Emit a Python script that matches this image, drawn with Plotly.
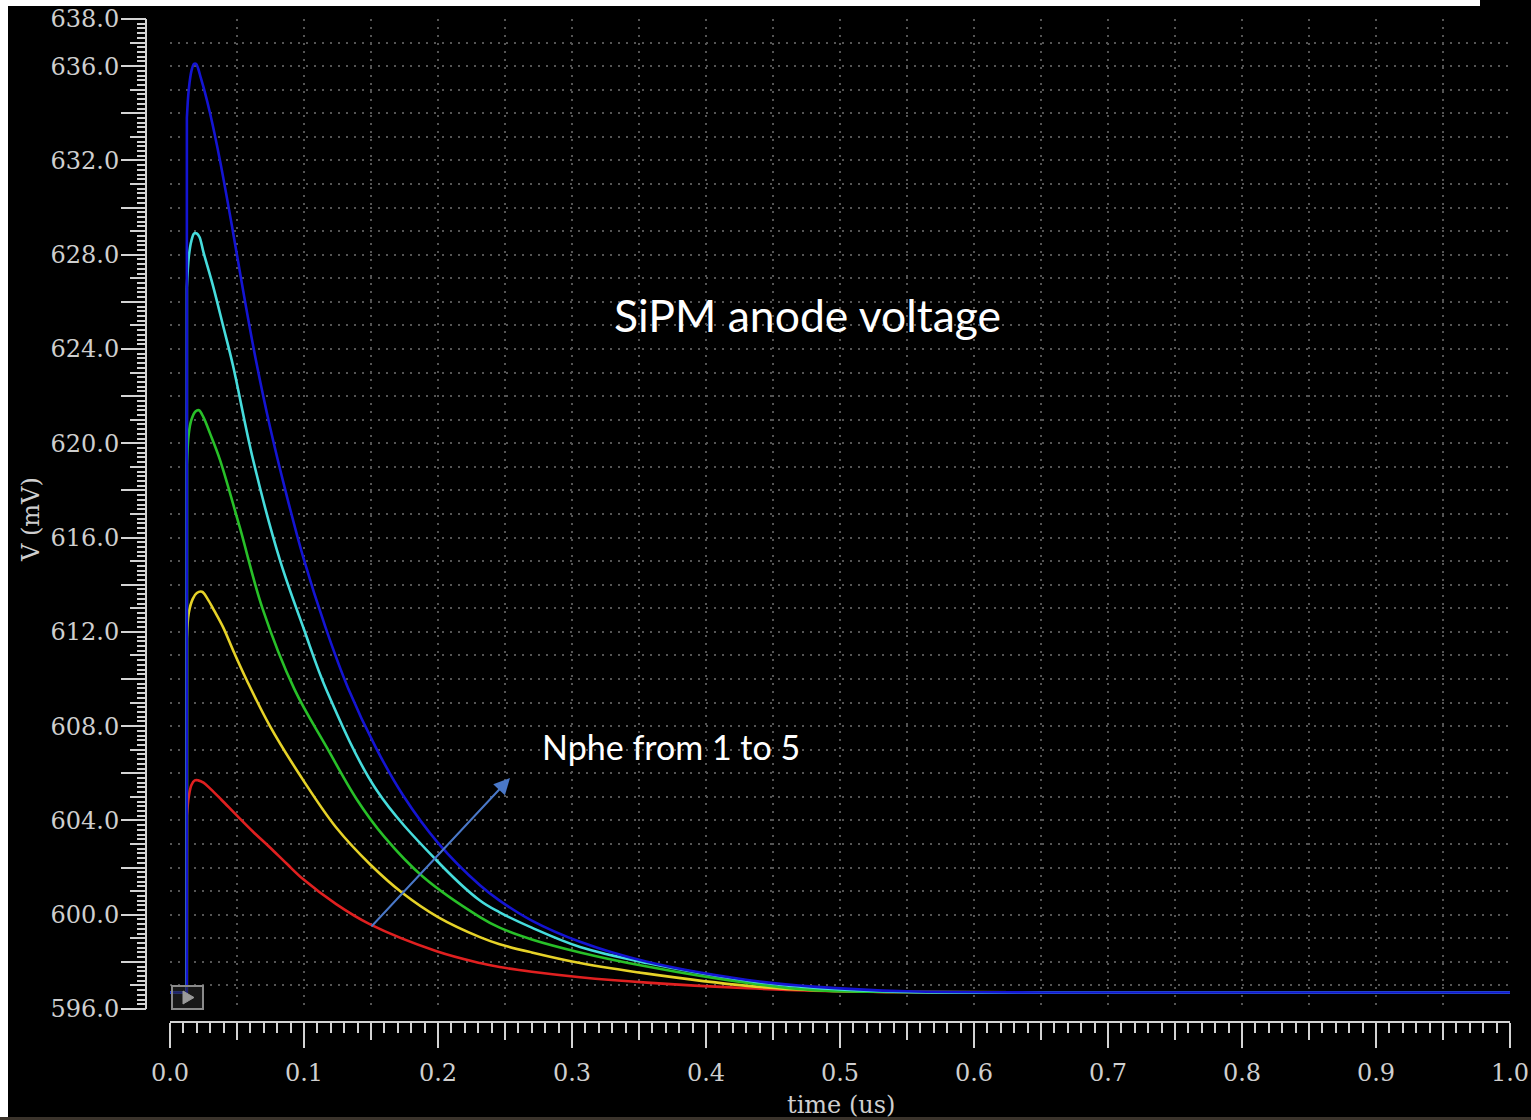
import plotly.graph_objects as go

# ---------------- data ----------------
series_names = ["Nphe 1", "Nphe 2", "Nphe 3", "Nphe 4", "Nphe 5"]
series_colors = ["#e02020", "#e6d228", "#28c028", "#46dcdc", "#1414d2"]

t_n1 = [0.0, 0.0125, 0.0126, 0.0140, 0.0160, 0.0185, 0.0210, 0.0250, 0.0300, 0.0380, 0.0500,
        0.0620, 0.0746, 0.0870, 0.0995, 0.1240, 0.1490, 0.1990, 0.2313, 0.2460, 0.2700,
        0.3060, 0.3560, 0.4310, 0.4800, 0.5500, 0.7000, 1.0]
v_n1 = [596.7, 596.7, 604.2, 605.0, 605.5, 605.7, 605.7, 605.6, 605.35, 604.9, 604.2,
        603.52, 602.85, 602.17, 601.5, 600.45, 599.6, 598.45, 597.95, 597.78, 597.58,
        597.35, 597.12, 596.88, 596.78, 596.72, 596.7, 596.7]

t_n2 = [0.0, 0.0125, 0.0126, 0.0140, 0.0170, 0.0200, 0.0239, 0.0280, 0.0330, 0.0396, 0.0480,
        0.0572, 0.0746, 0.0995, 0.1240, 0.1500, 0.1740, 0.2000, 0.2313, 0.2460, 0.2700,
        0.3060, 0.3560, 0.4310, 0.4800, 0.5500, 0.7000, 1.0]
v_n2 = [596.7, 596.7, 611.7, 612.8, 613.4, 613.65, 613.7, 613.4, 612.9, 612.2, 611.1,
        609.96, 608.0, 605.7, 603.7, 602.1, 600.9, 599.9, 599.05, 598.75, 598.4,
        597.95, 597.5, 596.98, 596.8, 596.72, 596.7, 596.7]

t_n3 = [0.0, 0.0125, 0.0126, 0.0140, 0.0160, 0.0190, 0.0216, 0.0250, 0.0300, 0.0373, 0.0520,
        0.0690, 0.0930, 0.1170, 0.1393, 0.1600, 0.1890, 0.2313, 0.2460, 0.2700, 0.3060,
        0.3560, 0.4310, 0.4800, 0.5500, 0.7000, 1.0]
v_n3 = [596.7, 596.7, 619.1, 620.4, 621.0, 621.35, 621.4, 621.1, 620.4, 619.3, 616.45,
        613.0, 609.55, 607.1, 604.9, 603.3, 601.6, 599.9, 599.45, 598.95, 598.4,
        597.8, 597.1, 596.8, 596.72, 596.7, 596.7]

t_n4 = [0.0, 0.0125, 0.0126, 0.0140, 0.0160, 0.0180, 0.0200, 0.0220, 0.0250, 0.0320, 0.0400,
        0.0470, 0.0620, 0.0820, 0.1000, 0.1170, 0.1540, 0.1990, 0.2313, 0.2460, 0.2700,
        0.3060, 0.3560, 0.4310, 0.4800, 0.5500, 0.7000, 1.0]
v_n4 = [596.7, 596.7, 626.6, 627.9, 628.6, 628.9, 628.9, 628.75, 628.1, 626.7, 624.9,
        623.3, 619.3, 615.05, 612.1, 609.5, 605.3, 602.3, 600.6, 600.1, 599.45,
        598.63, 597.95, 597.2, 596.9, 596.72, 596.7, 596.7]

t_n5 = [0.0, 0.0125, 0.0126, 0.0140, 0.0160, 0.0180, 0.0194, 0.0210, 0.0230, 0.0260, 0.0299,
        0.0373, 0.0463, 0.0545, 0.0642, 0.0746, 0.0870, 0.0995, 0.1160, 0.1330, 0.1540,
        0.1740, 0.2000, 0.2313, 0.2460, 0.2700, 0.3060, 0.3560, 0.4310, 0.4800, 0.5500,
        0.7000, 1.0]
v_n5 = [596.7, 596.7, 633.8, 635.0, 635.8, 636.1, 636.1, 635.9, 635.5, 634.9, 634.0,
        632.0, 629.2, 626.5, 623.5, 620.7, 617.8, 615.15, 612.2, 609.6, 607.05,
        605.06, 603.05, 601.25, 600.6, 599.75, 598.85, 598.0, 597.23, 596.95, 596.75,
        596.7, 596.7]

series_t = [t_n1, t_n2, t_n3, t_n4, t_n5]
series_v = [v_n1, v_n2, v_n3, v_n4, v_n5]

x_tickvals = [0.0, 0.1, 0.2, 0.3, 0.4, 0.5, 0.6, 0.7, 0.8, 0.9, 1.0]
x_ticktext = ["0.0", "0.1", "0.2", "0.3", "0.4", "0.5", "0.6", "0.7", "0.8", "0.9", "1.0"]
y_tickvals = [596, 598, 600, 602, 604, 606, 608, 610, 612, 614, 616, 618, 620,
              622, 624, 626, 628, 630, 632, 634, 636, 638]
y_ticktext = ["596.0", "", "600.0", "", "604.0", "", "608.0", "", "612.0", "", "616.0", "",
              "620.0", "", "624.0", "", "628.0", "", "632.0", "", "636.0", "638.0"]

# ---------------- layout geometry ----------------
W, H = 1531, 1120
px = lambda x: x / W
py = lambda y: 1 - y / H

TICK_COLOR = "#d4d4d4"
LABEL_FONT = dict(family="DejaVu Serif", size=24, color="#cfcfcf")
GRID_COLOR = "#555555"
JUMP = 3  # baseline + step part drawn straight, the rest smoothed

fig = go.Figure()
for name, color, t, v in zip(series_names, series_colors, series_t, series_v):
    fig.add_trace(go.Scatter(x=t[:JUMP], y=v[:JUMP], mode="lines", name=name,
                             line=dict(color=color, width=2.6), showlegend=False,
                             hoverinfo="skip"))
    fig.add_trace(go.Scatter(x=t[JUMP - 1:], y=v[JUMP - 1:], mode="lines", name=name,
                             line=dict(color=color, width=2.6, shape="spline", smoothing=1.0),
                             showlegend=False, hoverinfo="skip"))
# helper trace so overlay axes (grid / medium ticks) are drawn
fig.add_trace(go.Scatter(x=[None], y=[None], xaxis="x2", yaxis="y2", showlegend=False,
                         hoverinfo="skip"))

x_dom = [px(170), px(1510)]
y_dom = [py(1009), py(19)]

fig.update_layout(
    width=W, height=H,
    margin=dict(l=0, r=0, t=0, b=0, pad=0, autoexpand=False),
    paper_bgcolor="#000000", plot_bgcolor="#000000",
    xaxis=dict(domain=x_dom, range=[0, 1], anchor="free", position=py(1022),
               tickmode="array", tickvals=x_tickvals, ticktext=x_ticktext,
               ticks="outside", ticklen=25, tickwidth=2, tickcolor=TICK_COLOR,
               showline=True, linecolor=TICK_COLOR, linewidth=2,
               showgrid=False, zeroline=False, tickfont=LABEL_FONT,
               ticklabelstandoff=4, automargin=False,
               minor=dict(dtick=0.01, tick0=0, ticks="outside", ticklen=10,
                          tickwidth=2, tickcolor=TICK_COLOR, showgrid=False)),
    xaxis2=dict(domain=x_dom, range=[0, 1], overlaying="x", anchor="free",
                position=py(1022), dtick=0.05, tick0=0, ticks="outside", ticklen=17,
                tickwidth=2, tickcolor=TICK_COLOR, showticklabels=False,
                showgrid=True, gridcolor=GRID_COLOR, gridwidth=1.5, griddash="2px,6px",
                zeroline=False, showline=False, automargin=False),
    yaxis=dict(domain=y_dom, range=[596, 638], anchor="free", position=px(146),
               side="left", tickmode="array", tickvals=y_tickvals, ticktext=y_ticktext,
               ticks="outside", ticklen=24, tickwidth=2, tickcolor=TICK_COLOR,
               showline=True, linecolor=TICK_COLOR, linewidth=2,
               showgrid=False, zeroline=False, tickfont=LABEL_FONT,
               ticklabelstandoff=-3, automargin=False,
               minor=dict(dtick=0.2, tick0=596, ticks="outside", ticklen=8,
                          tickwidth=2, tickcolor=TICK_COLOR, showgrid=False)),
    yaxis2=dict(domain=y_dom, range=[596, 638], overlaying="y", anchor="free",
                position=px(146), side="left", dtick=1, tick0=596, ticks="outside",
                ticklen=16, tickwidth=2, tickcolor=TICK_COLOR, showticklabels=False,
                showgrid=True, gridcolor=GRID_COLOR, gridwidth=1.5, griddash="2px,6px",
                zeroline=False, showline=False, automargin=False),
    showlegend=False,
)

# axis titles
fig.add_annotation(text="time (us)", xref="paper", yref="paper", x=px(841), y=py(1105),
                   showarrow=False, font=LABEL_FONT, xanchor="center", yanchor="middle")
fig.add_annotation(text="V (mV)", xref="paper", yref="paper", x=px(31), y=py(520),
                   showarrow=False, font=LABEL_FONT, textangle=-90,
                   xanchor="center", yanchor="middle")

# chart texts
fig.add_annotation(text="SiPM anode voltage", xref="paper", yref="paper", x=px(807), y=py(314),
                   showarrow=False, font=dict(family="Lato", size=44.5, color="#ffffff"),
                   xanchor="center", yanchor="middle")
fig.add_annotation(text="Nphe from 1 to 5", xref="paper", yref="paper", x=px(671), y=py(746),
                   showarrow=False, font=dict(family="Lato", size=34, color="#ffffff"),
                   xanchor="center", yanchor="middle")
fig.add_annotation(text="", xref="paper", yref="paper", x=px(510), y=py(778),
                   ax=-140, ay=150, showarrow=True, arrowhead=2, arrowsize=1.6,
                   arrowwidth=2, arrowcolor="#4a78c8")

# marker box bottom-left
fig.add_shape(type="rect", xref="paper", yref="paper", x0=px(172), x1=px(203),
              y0=py(1009), y1=py(986), line=dict(color="#8a8a8a", width=2),
              fillcolor="rgba(40,40,40,0.6)")
fig.add_shape(type="path", xref="paper", yref="paper",
              path=f"M {px(183)} {py(991)} L {px(183)} {py(1004)} L {px(194)} {py(997.5)} Z",
              line=dict(color="#9a9a9a", width=1), fillcolor="#9a9a9a")

# photo frame edges
fig.add_shape(type="rect", xref="paper", yref="paper", x0=0, x1=px(1480), y0=py(6), y1=1,
              line=dict(width=0), fillcolor="#ffffff", layer="above")
fig.add_shape(type="rect", xref="paper", yref="paper", x0=0, x1=px(8), y0=0, y1=1,
              line=dict(width=0), fillcolor="#ffffff", layer="above")
fig.add_shape(type="rect", xref="paper", yref="paper", x0=0, x1=1, y0=0, y1=py(1117),
              line=dict(width=0), fillcolor="#3b342c", layer="above")

fig.write_html("out.html")
